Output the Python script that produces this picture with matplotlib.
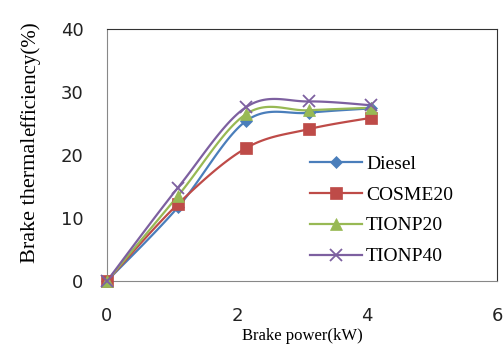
import numpy as np
import matplotlib
matplotlib.use("Agg")
import matplotlib.pyplot as plt

power = [0, 1.09, 2.14, 3.1, 4.06]
diesel = [0, 11.7, 25.4, 26.7, 27.4]
cosme20 = [0, 12.2, 21.1, 24.1, 25.9]
tionp20 = [0, 13.5, 26.5, 27.1, 27.5]
tionp40 = [0, 14.8, 27.6, 28.5, 27.9]
labels = ["Diesel", "COSME20", "TIONP20", "TIONP40"]
colors = ["#4A7EBB", "#BE4B48", "#98B954", "#7D60A0"]
markers = ["D", "s", "^", "x"]
msizes = [6, 9, 9, 9]
xticks = [0, 2, 4, 6]
yticks = [0, 10, 20, 30, 40]


def smooth(x, y, n=30):
    # Excel-style smoothed line (Catmull-Rom via cubic Bezier)
    P = np.column_stack([x, y]).astype(float)
    out = []
    for i in range(len(P) - 1):
        p0 = P[i - 1] if i > 0 else P[i]
        p1 = P[i]
        p2 = P[i + 1]
        p3 = P[i + 2] if i + 2 < len(P) else P[i + 1]
        c1 = p1 + (p2 - p0) / 6
        c2 = p2 - (p3 - p1) / 6
        t = np.linspace(0, 1, n)[:, None]
        seg = ((1 - t) ** 3) * p1 + 3 * ((1 - t) ** 2) * t * c1 + 3 * (1 - t) * t ** 2 * c2 + t ** 3 * p2
        out.append(seg if i == 0 else seg[1:])
    s = np.vstack(out)
    return s[:, 0], s[:, 1]


fig = plt.figure(figsize=(5.03, 3.44), dpi=100)
ax = fig.add_axes([107 / 503, 1 - 281 / 344, 390 / 503, 252 / 344])

series = [diesel, cosme20, tionp20, tionp40]
for ys, lab, c, m, ms in zip(series, labels, colors, markers, msizes):
    sx, sy = smooth(power, ys)
    ax.plot(sx, sy, color=c, lw=1.6, zorder=2)
    ax.plot(power, ys, linestyle="none", marker=m, color=c, markersize=ms,
            markeredgewidth=1.3 if m == "x" else 0.5, zorder=3, clip_on=False)
    ax.plot([], [], color=c, lw=1.6, marker=m, markersize=ms,
            markeredgewidth=1.3 if m == "x" else 0.5, label=lab)

ax.set_xlim(0, 6)
ax.set_ylim(0, 40)
ax.set_xticks(xticks)
ax.set_yticks(yticks)
ax.tick_params(length=0, labelsize=13, colors="#222222")
ax.tick_params(axis="x", pad=19)
ax.tick_params(axis="y", pad=17)
for s in ["left", "bottom"]:
    ax.spines[s].set_color("#888888")
for s in ["top", "right"]:
    ax.spines[s].set_color("#333333")

leg = ax.legend(loc="upper left", bbox_to_anchor=(0.5, 0.53), frameon=False,
                prop={"family": "Liberation Serif", "size": 14},
                handlelength=2.7, handletextpad=0.2, labelspacing=0.68,
                borderaxespad=0)

fig.text(302 / 503, 0.5 / 344, "Brake power(kW)", family="Liberation Serif",
         fontsize=12, ha="center", va="bottom")
t1 = fig.text(35 / 503, 1 - 263 / 344, "Brake thermal", family="Liberation Serif",
              fontsize=16, rotation=90, rotation_mode="anchor", ha="left", va="baseline")
fig.canvas.draw()
bb = t1.get_window_extent()
t2 = fig.text(35 / 503, bb.y1 / fig.bbox.height + 1 / 344, "efficiency(%)", family="Liberation Serif",
              fontsize=15, rotation=90, rotation_mode="anchor", ha="left", va="baseline")

fig.savefig("out.png", dpi=100)
